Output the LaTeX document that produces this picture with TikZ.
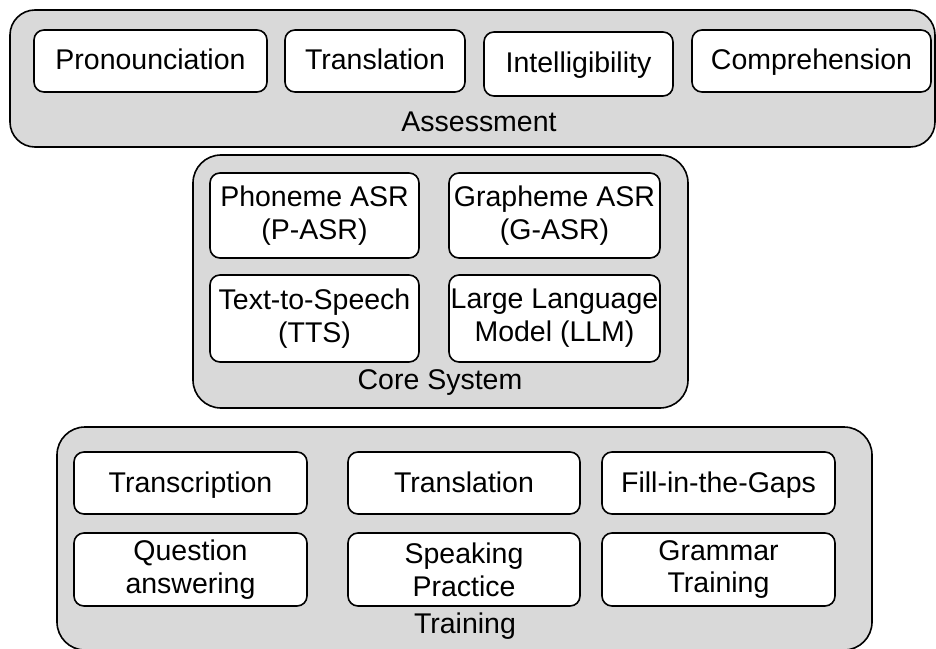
\documentclass[tikz,border=0pt]{standalone}
\usepackage{fontspec}
\setmainfont{Liberation Sans}
\usetikzlibrary{positioning}
\definecolor{panelgray}{HTML}{D9D9D9}
\tikzset{
  panel/.style={draw, line width=1.6bp, fill=panelgray, rounded corners=28bp, inner sep=0pt},
  box/.style={draw, line width=1.6bp, fill=white, rounded corners=10bp, inner sep=0pt},
  item/.style={box, align=center},
  oneline/.style={box, text height=20bp, text depth=2bp},
  paneltitle/.style={anchor=base, inner sep=0pt}
}

\begin{document}
\begin{tikzpicture}[x=1bp, y=-1bp, font=\fontsize{28.6}{33}\selectfont]
  \useasboundingbox (0,0) rectangle (936,649);
  % three grey panels, top to bottom
  \node[panel, rounded corners=25bp, minimum width=925bp, minimum height=137bp] (assessment) at (472.5,78.5) {};
  \node[panel, minimum width=495bp, minimum height=253bp] (core) at (440.5,281.5) {};
  \node[panel, minimum width=815bp, minimum height=223bp] (training) at (464.5,538.5) {};

  % assessment row
  \node[oneline, minimum width=233bp, minimum height=62bp] (pron) at (150.5,61) {Pronounciation};
  \node[oneline, minimum width=180bp, minimum height=62bp] (transl) at (375,61) {Translation};
  \node[oneline, minimum width=189bp, minimum height=64bp] (intel) at (578.5,64) {Intelligibility};
  \node[oneline, minimum width=239bp, minimum height=62bp] (compr) at (811.5,61) {Comprehension};
  \node[paneltitle] (assesslbl) at (479,132) {Assessment};

  % core system modules
  \node[item, minimum width=209bp, minimum height=85bp] (pasr) at (314.5,215.5) {Phoneme ASR\\(P-ASR)};
  \node[item, minimum width=211bp, minimum height=85bp] (gasr) at (554.5,215.5) {Grapheme ASR\\(G-ASR)};
  \node[item, minimum width=209bp, minimum height=87bp] (tts) at (314.5,318.5) {Text-to-Speech\\(TTS)};
  \node[item, minimum width=211bp, minimum height=87bp] (llm) at (554.5,318.5) {Large Language\\Model (LLM)};
  \node[paneltitle] (corelbl) at (440,389) {Core System};

  % training exercises
  \node[oneline, minimum width=233bp, minimum height=62bp] (transc) at (190.5,483) {Transcription};
  \node[oneline, minimum width=232bp, minimum height=62bp] (transtr) at (464,483) {Translation};
  \node[oneline, minimum width=233bp, minimum height=62bp] (gaps) at (718.5,483) {Fill-in-the-Gaps};
  \node[item, minimum width=233bp, minimum height=73bp] (qa) at (190.5,569.5) {Question\\answering};
  \node[item, minimum width=232bp, minimum height=73bp] (speak) at (464,569.5) {Speaking\\Practice};
  \node[item, minimum width=233bp, minimum height=73bp] (gram) at (718.5,569.5) {Grammar\\Training};
  \node[paneltitle] (traininglbl) at (465,633) {Training};
\end{tikzpicture}
\end{document}
